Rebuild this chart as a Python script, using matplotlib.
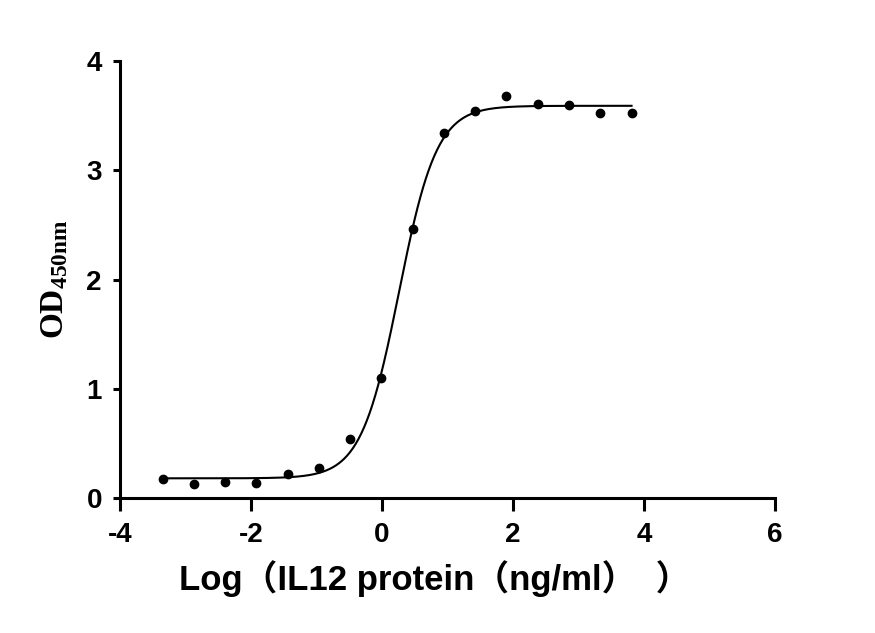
import matplotlib.pyplot as plt
import numpy as np

# Dados
log_conc = [-3.34, -2.87, -2.40, -1.92, -1.44, -0.96, -0.49, -0.01,
            0.47, 0.94, 1.42, 1.90, 2.38, 2.86, 3.33, 3.81]
od450 = [0.17, 0.13, 0.15, 0.14, 0.22, 0.27, 0.54, 1.10,
         2.46, 3.34, 3.54, 3.68, 3.61, 3.60, 3.52, 3.52]

# Parâmetros do ajuste 4PL (estimados)
bottom = 0.18
top = 3.59
log_ec50 = 0.26
hill = 1.5

x_ticks = [-4, -2, 0, 2, 4, 6]
y_ticks = [0, 1, 2, 3, 4]

plt.rcParams['axes.unicode_minus'] = False
plt.rcParams['mathtext.fontset'] = 'custom'
plt.rcParams['mathtext.rm'] = 'Liberation Serif:bold'
plt.rcParams['mathtext.it'] = 'Liberation Serif:bold'
plt.rcParams['mathtext.bf'] = 'Liberation Serif:bold'

fig = plt.figure(figsize=(8.75, 6.33), dpi=100)
ax = fig.add_axes([0.1371, 0.2133, 0.7486, 0.6903])

# Curva ajustada
x_fit = np.linspace(min(log_conc), max(log_conc), 500)
y_fit = bottom + (top - bottom) / (1 + 10 ** (hill * (log_ec50 - x_fit)))
ax.plot(x_fit, y_fit, color="black", linewidth=1.5)

# Pontos
ax.plot(log_conc, od450, "o", color="black", markersize=6)

ax.set_xlim(-4, 6)
ax.set_ylim(0, 4)
ax.set_xticks(x_ticks)
ax.set_yticks(y_ticks)

for s in ["top", "right"]:
    ax.spines[s].set_visible(False)
for s in ["left", "bottom"]:
    ax.spines[s].set_linewidth(2.2)

ax.tick_params(axis="x", length=9, width=2.2, pad=8)
ax.tick_params(axis="y", length=5, width=2.2, pad=8)
for lbl in ax.get_xticklabels() + ax.get_yticklabels():
    lbl.set_fontfamily("Liberation Sans")
    lbl.set_fontweight("bold")
    lbl.set_fontsize(20)

ax.set_xlabel("Log（IL12 protein（ng/ml）  ）",
              family=["Liberation Sans", "Noto Sans CJK SC"],
              fontweight="bold", fontsize=25)
ax.set_ylabel(r"$\mathrm{OD_{450nm}}$", fontsize=24, labelpad=12)
ax.xaxis.set_label_coords(0.48, -0.143)

plt.savefig("out.png", dpi=100)
